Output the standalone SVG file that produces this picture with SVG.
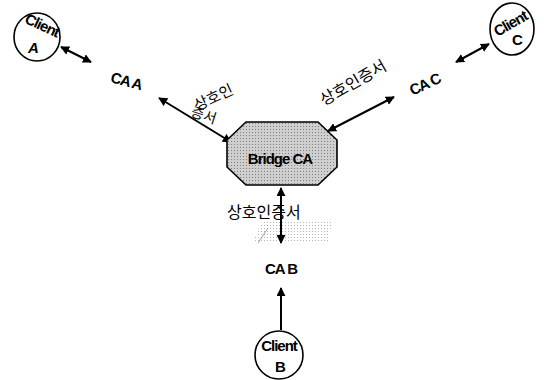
<svg xmlns="http://www.w3.org/2000/svg" width="544" height="380" viewBox="0 0 544 380">
<style>
.lbl{font-family:"Liberation Sans",Arial,sans-serif;font-weight:bold;font-size:15px;letter-spacing:-1px;fill:#000}
.kr{font-family:"Noto Sans CJK KR","Noto Sans",sans-serif;font-size:16px;fill:#000}
.ln{stroke:#000;stroke-width:2;fill:none}
.cl{fill:#fff;stroke:#000;stroke-width:1.6}
</style>
<defs>
<marker id="ah" viewBox="0 0 10 10" refX="9" refY="5" markerWidth="4.5" markerHeight="4.5" orient="auto-start-reverse" markerUnits="strokeWidth">
<path d="M0,0 L10,5 L0,10 z" fill="#000"/>
</marker>
<pattern id="dots" width="3" height="3" patternUnits="userSpaceOnUse">
<rect width="3" height="3" fill="#cfcfcf"/>
<rect width="1" height="1" fill="#808080"/>
</pattern>
<pattern id="ldots" width="3" height="3" patternUnits="userSpaceOnUse">
<rect width="1" height="1" fill="#b5b5b5"/>
</pattern>
</defs>
<rect width="544" height="380" fill="#fff"/>
<g id="connectors">
<line class="ln" x1="61" y1="47" x2="91" y2="62" marker-start="url(#ah)" marker-end="url(#ah)"/>
<line class="ln" x1="159" y1="98" x2="231" y2="142" marker-start="url(#ah)" marker-end="url(#ah)"/>
<line class="ln" x1="394" y1="97" x2="328" y2="131" marker-start="url(#ah)" marker-end="url(#ah)"/>
<line class="ln" x1="456" y1="62" x2="489" y2="44" marker-start="url(#ah)" marker-end="url(#ah)"/>
<polygon points="262,222 332,222 328,243 252,243" fill="url(#ldots)"/>
<line x1="258" y1="243" x2="268" y2="228" stroke="#888" stroke-width="0.8"/>
<line class="ln" x1="281" y1="188" x2="281" y2="243" marker-start="url(#ah)" marker-end="url(#ah)"/>
<line class="ln" x1="281" y1="330" x2="281" y2="288" marker-end="url(#ah)"/>
<text class="kr" style="font-size:15px" transform="translate(197,111) rotate(-25)">상호인</text>
<text class="kr" style="font-size:14px" transform="translate(190,116) rotate(18)">증서</text>
<text class="kr" transform="translate(324,106) rotate(-30)">상호인증서</text>
<text class="kr" x="227" y="218">상호인증서</text>
</g>
<g id="clientA">
<ellipse class="cl" cx="37" cy="37" rx="23" ry="24"/>
<text class="lbl" transform="translate(40,30) rotate(25)" text-anchor="middle">Client</text>
<text class="lbl" x="33" y="53" text-anchor="middle" font-style="italic">A</text>
</g>
<g id="caA">
<text class="lbl" transform="translate(125,86) rotate(15)" text-anchor="middle">CA A</text>
</g>
<g id="bridge">
<polygon points="246,122 318,122 337,140 337,167 318,185 246,185 227,167 227,140" fill="url(#dots)" stroke="#000" stroke-width="1.6"/>
<text class="lbl" x="280" y="164" text-anchor="middle">Bridge CA</text>
</g>
<g id="caC">
<text class="lbl" transform="translate(427,89) rotate(-25)" text-anchor="middle">CA C</text>
</g>
<g id="clientC">
<ellipse class="cl" cx="512" cy="29" rx="22" ry="26"/>
<text class="lbl" transform="translate(513,28) rotate(-30)" text-anchor="middle">Client</text>
<text class="lbl" x="517" y="45" text-anchor="middle">C</text>
</g>
<g id="caB">
<text class="lbl" x="281" y="274" text-anchor="middle">CA B</text>
</g>
<g id="clientB">
<circle class="cl" cx="279" cy="355" r="24"/>
<text class="lbl" x="279" y="351" text-anchor="middle">Client</text>
<text class="lbl" x="280" y="372" text-anchor="middle">B</text>
</g>
</svg>
